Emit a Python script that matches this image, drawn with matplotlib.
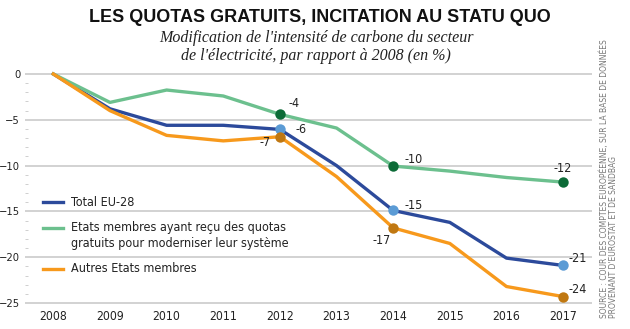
import matplotlib
matplotlib.use("Agg")
import matplotlib.pyplot as plt
from matplotlib.lines import Line2D
from matplotlib import font_manager as fm

# --- data -----------------------------------------------------------------
years = [2008, 2009, 2010, 2011, 2012, 2013, 2014, 2015, 2016, 2017]
total_eu28 = [0, -3.8, -5.6, -5.6, -6.05, -10.0, -14.9, -16.2, -20.1, -20.9]
etats_modernisation = [0, -3.1, -1.75, -2.4, -4.4, -5.9, -10.05, -10.6, -11.3, -11.8]
autres_etats = [0, -4.0, -6.7, -7.3, -6.85, -11.2, -16.8, -18.5, -23.2, -24.3]

marked_years = [2012, 2014, 2017]
labels_total = ["-6", "-15", "-21"]
labels_modern = ["-4", "-10", "-12"]
labels_autres = ["-7", "-17", "-24"]

yticks = [0, -5, -10, -15, -20, -25]
legend_labels = ["Total EU-28",
                 "Etats membres ayant reçu des quotas\ngratuits pour moderniser leur système",
                 "Autres Etats membres"]

title = "LES QUOTAS GRATUITS, INCITATION AU STATU QUO"
subtitle = "Modification de l'intensité de carbone du secteur\nde l'électricité, par rapport à 2008 (en %)"
source_1 = "SOURCE : COUR DES COMPTES EUROPÉENNE, SUR LA BASE DE DONNÉES"
source_2 = "PROVENANT D'EUROSTAT ET DE SANDBAG"

# --- style ----------------------------------------------------------------
W, H = 630, 329
c_blue, c_green, c_orange = "#2c4a9b", "#6cc08e", "#f7991c"
m_blue, m_green, m_orange = "#5b9bd5", "#0c6b37", "#c07812"
txt = "#222222"

# condensed sans for labels
cond_path = None
for f in fm.fontManager.ttflist:
    if f.name == "DejaVu Sans" and f.stretch == "condensed" and f.weight in (400, "normal") and f.style == "normal":
        cond_path = f.fname
        break
if cond_path:
    lab_font = fm.FontProperties(fname=cond_path, size=9)
    xtick_font = fm.FontProperties(fname=cond_path, size=8.7)
    ytick_font = fm.FontProperties(fname=cond_path, size=8)
else:
    lab_font = fm.FontProperties(family="DejaVu Sans", size=8.5)
    xtick_font = fm.FontProperties(family="DejaVu Sans", size=8)
    ytick_font = fm.FontProperties(family="DejaVu Sans", size=7.5)

fig = plt.figure(figsize=(W / 100, H / 100), dpi=100)
fig.patch.set_facecolor("white")


def fx(px):
    return px / W


def fy(py):
    return 1 - py / H


# axes placed so that y=0 sits at 74 px and y=-25 at 303 px
ylo, yhi = -25.5, 0.5
ppu = (303 - 74) / 25.0
top_px = 74 - (yhi - 0) * ppu
bot_px = 303 + (-25 - ylo) * ppu
ax = fig.add_axes([fx(25), fy(bot_px), fx(592 - 25), (bot_px - top_px) / H])
ax.set_xlim(2007.5, 2017.51)
ax.set_ylim(ylo, yhi)
for s in ax.spines.values():
    s.set_visible(False)
ax.set_facecolor("none")

ax.set_yticks(yticks)
ax.set_yticks(range(-25, 1), minor=True)
ax.yaxis.grid(True, which="major", color="#cfcfcf", linewidth=1.3)
ax.set_axisbelow(True)
ax.tick_params(axis="y", which="major", length=0, pad=3.5, labelcolor=txt)
ax.tick_params(axis="y", which="minor", length=2.2, width=0.6, color="#c8c8c8", direction="in")
ax.set_xticks(years)
ax.tick_params(axis="x", length=0, pad=2, labelcolor=txt)
for lab in ax.get_xticklabels():
    lab.set_fontproperties(xtick_font)
for lab in ax.get_yticklabels():
    lab.set_fontproperties(ytick_font)

# series lines
series = [
    (total_eu28, c_blue, m_blue, labels_total),
    (etats_modernisation, c_green, m_green, labels_modern),
    (autres_etats, c_orange, m_orange, labels_autres),
]
for vals, lc, mc, _ in series:
    ax.plot(years, vals, color=lc, linewidth=2.4, solid_joinstyle="round", zorder=3)

for vals, lc, mc, _ in series:
    mv = [vals[years.index(y)] for y in marked_years]
    ax.plot(marked_years, mv, linestyle="none", marker="o", markersize=7.5,
            color=mc, markeredgewidth=0, zorder=5, clip_on=False)

# value labels (offsets in points)
offsets = {
    ("total", 2012): (11, 0, "left", "center"),
    ("total", 2014): (8, 3.5, "left", "center"),
    ("total", 2017): (4, 5, "left", "center"),
    ("modern", 2012): (6, 8, "left", "center"),
    ("modern", 2014): (8, 5, "left", "center"),
    ("modern", 2017): (0, 9.5, "center", "center"),
    ("autres", 2012): (-7, -4.5, "right", "center"),
    ("autres", 2014): (-8, -9, "center", "center"),
    ("autres", 2017): (4, 5, "left", "center"),
}
keys = ["total", "modern", "autres"]
for key, (vals, lc, mc, labs) in zip(keys, series):
    for y, lab in zip(marked_years, labs):
        dx, dy, ha, va = offsets[(key, y)]
        ax.annotate(lab, (y, vals[years.index(y)]), xytext=(dx, dy),
                    textcoords="offset points", ha=ha, va=va,
                    fontproperties=lab_font, color=txt, zorder=6)

# legend
legend_y = [202, 228, 269]
for (vals, lc, mc, _), ly, lab in zip(series, legend_y, legend_labels):
    fig.add_artist(Line2D([fx(43), fx(63)], [fy(ly), fy(ly)], color=lc,
                          linewidth=2.4, transform=fig.transFigure))
    two = "\n" in lab
    fig.text(fx(71), fy(ly - 7) if two else fy(ly), lab, ha="left",
             va="top" if two else "center",
             fontproperties=lab_font, color=txt, linespacing=1.35)

# titles
fig.text(fx(320), fy(17), title, ha="center", va="center", fontsize=13,
         fontweight="bold", family=["Liberation Sans", "DejaVu Sans"], color="#111111")
fig.text(fx(316), fy(47), subtitle, ha="center", va="center", fontsize=11.5,
         style="italic", family=["Liberation Serif", "DejaVu Serif"], color="#222222",
         linespacing=1.2)

# source, written vertically at the right edge
fig.text(fx(604.5), fy(318), source_1, rotation=90, ha="center", va="bottom",
         fontsize=5.5, family=["DejaVu Sans"], color="#777777")
fig.text(fx(613.5), fy(318), source_2, rotation=90, ha="center", va="bottom",
         fontsize=5.5, family=["DejaVu Sans"], color="#777777")

fig.savefig("out.png", dpi=100, facecolor="white")
